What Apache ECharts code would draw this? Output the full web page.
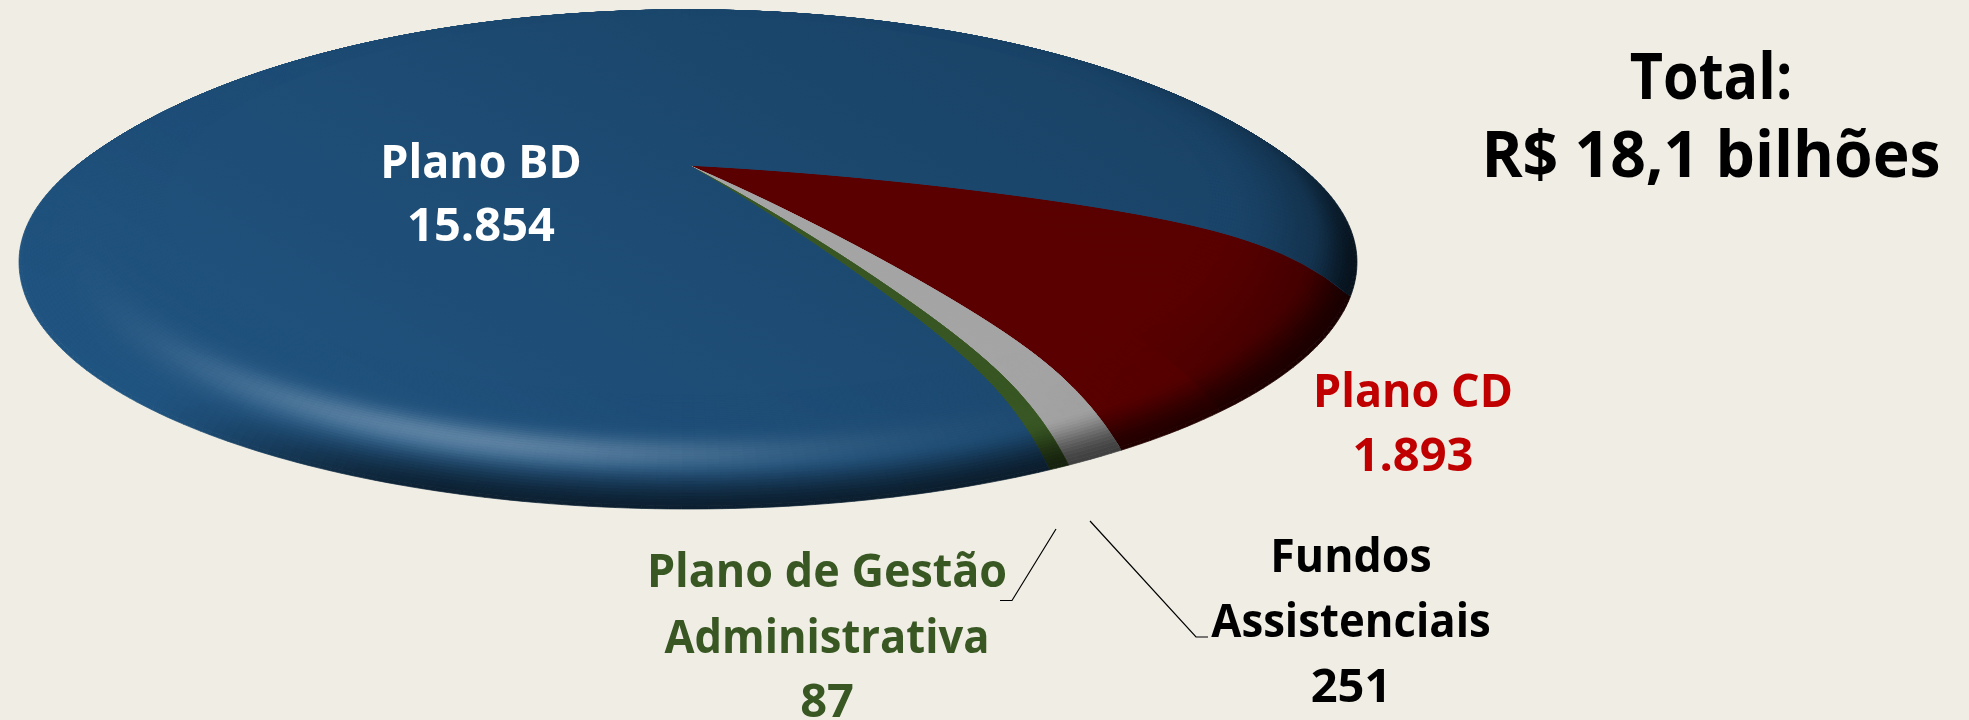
<!DOCTYPE html>
<html>
<head>
<meta charset="utf-8">
<style>html,body{margin:0;padding:0;background:#EFEDE4}#chart{width:1969px;height:720px}</style>
<script src="https://cdn.jsdelivr.net/npm/echarts@6/dist/echarts.min.js"></script>
</head>
<body>
<div id="chart"></div>
<script>
// Patrimônio por plano, em R$ milhões
const planNames = ['Plano CD', 'Fundos Assistenciais', 'Plano de Gestão Administrativa', 'Plano BD'];
const planValues = [1893, 251, 87, 15854];
const planColors = [[92, 0, 0], [166, 166, 166], [56, 87, 35], [29, 75, 115]];
const totalLines = ['Total:', 'R$ 18,1 bilhões'];

// Tilted shallow dome onto which the slices are projected
const dome = { cx: 688, cy: 262, rx: 669, ry: 247, backRatio: 0.96, lift: 97, startDeg: 15.8, warp: 8.6, warpAt: 80 };
const total = planValues.reduce((a, b) => a + b, 0);
const rad = Math.PI / 180;
const topRing = 0.78;

// Screen angle of a slice angle: the near side of the disc looks stretched
const screenDeg = deg => deg + dome.warp * Math.sin((deg - dome.warpAt) * rad);

function project(r, deg) {
  const a = screenDeg(deg) * rad;
  const s = Math.sin(a);
  const h = 1 - 0.55 * r * r - 0.45 * Math.pow(r, 10);
  return [
    dome.cx + dome.rx * r * Math.cos(a),
    dome.cy + dome.ry * r * s * (s < 0 ? dome.backRatio : 1) - dome.lift * h
  ];
}
function smooth(a, b, v) {
  const t = Math.min(1, Math.max(0, (v - a) / (b - a)));
  return t * t * (3 - 2 * t);
}
const rgb = ch => 'rgb(' + ch.map(v => Math.round(Math.min(255, v))).join(',') + ')';

// Broad light across the top face, brighter towards the lower left
const lightX = -0.1 / dome.rx, lightY = 0.06 / dome.ry;
const faceLight = (x, y, flat) => 1 + flat * (lightX * (x - dome.cx) + lightY * (y - dome.cy));

function faceGradient(base, flat) {
  const len2 = lightX * lightX + lightY * lightY, span = 0.2;
  const dx = lightX / len2 * span, dy = lightY / len2 * span;
  return new echarts.graphic.LinearGradient(
    dome.cx - dx, dome.cy - dy, dome.cx + dx, dome.cy + dy,
    [
      { offset: 0, color: rgb(base.map(v => v * (1 - flat * span))) },
      { offset: 1, color: rgb(base.map(v => v * (1 + flat * span))) }
    ],
    true
  );
}

// Bevel lighting near the rim: a pale band at the front, dark lip facing lower right
function rimColor(base, r, sliceDeg, flat, x, y) {
  const deg = screenDeg(sliceDeg);
  const a = deg * rad, c = Math.cos(a), s = Math.sin(a);
  let f = faceLight(x, y, flat);
  const facing = c * 0.55 + s * 0.83;
  f *= 1 - 0.6 * smooth(0.93, 1, r) * smooth(0, 0.6, facing);
  f *= 1 - 0.32 * smooth(0.8, 1, r) * Math.pow(Math.max(0, c), 3) * (s < 0.6 ? 1 : 0.5);
  const d = (deg % 360 + 360) % 360 - 112;
  const glow = 0.27 * Math.exp(-Math.pow((r - 0.915) / 0.03, 2)) * Math.exp(-d * d / (2 * 22 * 22));
  return rgb(base.map(v => v * f + (255 - v) * glow));
}

const rimRings = [];
for (let i = 0; i <= 50; i++) rimRings.push(topRing + i * (1 - topRing) / 50);

function rimQuads(from, to, base, flat, out) {
  const n = Math.max(3, Math.ceil(to - from));
  const step = (to - from) / n;
  for (let j = rimRings.length - 2; j >= 0; j--) {
    for (let i = 0; i < n; i++) {
      const a0 = from + i * step, a1 = a0 + step;
      const r0 = rimRings[j], r1 = rimRings[j + 1];
      const pts = [project(r0, a0), project(r1, a0), project(r1, a1), project(r0, a1)];
      const fill = rimColor(base, (r0 + r1) / 2, (a0 + a1) / 2, flat,
        (pts[0][0] + pts[2][0]) / 2, (pts[0][1] + pts[2][1]) / 2);
      out.push({
        type: 'polygon', silent: true,
        shape: { points: pts },
        style: { fill: fill, stroke: fill, lineWidth: 0.7 }
      });
    }
  }
}

// Whole slice out to ring `reach`: apex along one edge, round the arc, back along the other
function sliceOutline(from, to, reach) {
  const pts = [], edgeSteps = 30, arcSteps = Math.max(3, Math.ceil(to - from));
  for (let i = 0; i <= edgeSteps; i++) pts.push(project(reach * i / edgeSteps, from));
  for (let i = 1; i <= arcSteps; i++) pts.push(project(reach, from + (to - from) * i / arcSteps));
  for (let i = edgeSteps - 1; i > 0; i--) pts.push(project(reach * i / edgeSteps, to));
  return pts;
}

function renderSlice(params, api) {
  let before = 0;
  for (let i = 0; i < params.dataIndex; i++) before += planValues[i];
  const from = dome.startDeg + before / total * 360;
  const to = from + api.value(0) / total * 360;
  const base = planColors[params.dataIndex];
  const flat = params.dataIndex === 3 ? 1 : 0.4;
  const grad = faceGradient(base, flat);
  const face = reach => ({
    type: 'polygon', silent: true,
    shape: { points: sliceOutline(from, to, reach) },
    style: { fill: grad, stroke: grad, lineWidth: 0.7 }
  });
  // Solid layers under the bevel keep the paper colour from showing between its cells
  const children = [face(0.995), face(0.875)];
  rimQuads(from, to, base, flat, children);
  children.push(face(topRing));
  return { type: 'group', children: children };
}

function label(text, x, y, fill, size, sx) {
  return {
    type: 'text', x: x, y: y, scaleX: sx, silent: true, z: 10,
    style: { text: text, fill: fill, align: 'center', verticalAlign: 'middle',
      fontFamily: '"Open Sans"', fontWeight: 700, fontSize: size }
  };
}
const fmt = v => String(v).replace(/\B(?=(\d{3})+$)/g, '.');
const leader = pts => ({
  type: 'polyline', silent: true, z: 10, shape: { points: pts },
  style: { fill: null, stroke: '#000', lineWidth: 1.2 }
});

const chart = echarts.init(document.getElementById('chart'), null, { renderer: 'canvas' });
chart.setOption({
  animation: false,
  backgroundColor: '#EFEDE4',
  series: [{
    type: 'custom',
    coordinateSystem: 'none',
    renderItem: renderSlice,
    silent: true,
    data: planValues.map((v, i) => ({ name: planNames[i], value: [v] }))
  }],
  graphic: { elements: [
    label('Plano BD', 481, 165, '#FFFFFF', 47, 0.955),
    label(fmt(planValues[3]), 481, 228, '#FFFFFF', 47, 1),
    label('Plano CD', 1413, 394, '#C00000', 47, 0.955),
    label(fmt(planValues[0]), 1413, 458, '#C00000', 47, 1),
    label('Plano de Gestão', 827, 574, '#385723', 47, 0.955),
    label('Administrativa', 827, 640, '#385723', 47, 0.925),
    label(fmt(planValues[2]), 827, 704, '#385723', 47, 1),
    label('Fundos', 1351, 559, '#000000', 47, 0.95),
    label('Assistenciais', 1351, 624, '#000000', 47, 0.93),
    label(fmt(planValues[1]), 1351, 689, '#000000', 47, 1),
    label(totalLines[0], 1711, 80, '#000000', 65, 0.885),
    label(totalLines[1], 1711, 158, '#000000', 65, 0.96),
    leader([[1056, 529], [1012, 600.5], [1000, 600.5]]),
    leader([[1090, 521], [1196, 637], [1208, 637]])
  ] }
});
</script>
</body>
</html>
